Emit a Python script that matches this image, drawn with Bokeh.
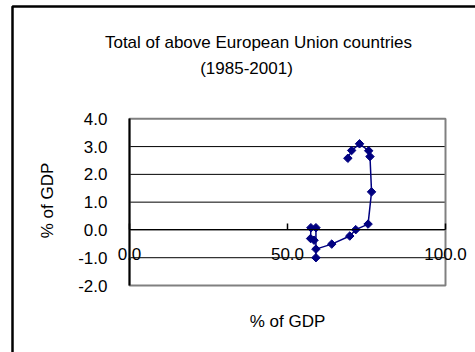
from bokeh.plotting import figure
from bokeh.models import Label, FixedTicker, PrintfTickFormatter, Range1d
from bokeh.embed import file_html
from bokeh.resources import INLINE
from math import pi

# Debt (% of GDP) against primary balance (% of GDP), 1985-2001
debt = [58.4, 57.3, 57.4, 59.0, 59.0, 59.0, 64.0, 69.7, 71.6, 75.5, 76.6, 76.1, 75.7, 72.8, 70.3, 69.1]
balance = [-0.37, -0.31, 0.08, 0.08, -1.0, -0.69, -0.51, -0.22, 0.01, 0.21, 1.37, 2.64, 2.85, 3.10, 2.86, 2.58]

x_ticks = [0, 50, 100]
y_ticks = [-2, -1, 0, 1, 2, 3, 4]

title_lines = ["Total of above European Union countries", "(1985-2001)"]
x_title = "% of GDP"
y_title = "% of GDP"

FONT = "Liberation Sans"
FSIZE = "17px"
NAVY = "#000080"
GREY = "#808080"

W, H = 475, 352
# pixel box of the plot area inside the chart
PL, PR, PT, PB = 129.0, 445.0, 118.3, 285.0
X0, X1 = x_ticks[0], x_ticks[-1]
Y0, Y1 = y_ticks[0], y_ticks[-1]
SX = (PR - PL) / (X1 - X0)
SY = (PB - PT) / (Y1 - Y0)


def dx(px):
    return X0 + (px - PL) / SX


def dy(py):
    return Y1 - (py - PT) / SY


# the frame covers the whole chart area so titles can sit anywhere on it
p = figure(width=W, height=H,
           x_range=Range1d(dx(0), dx(W)), y_range=Range1d(dy(H), dy(0)),
           output_backend="svg", toolbar_location=None,
           min_border_left=0, min_border_right=0,
           min_border_top=0, min_border_bottom=0,
           background_fill_color="white", border_fill_color="white")
p.outline_line_color = None
p.xgrid.visible = False
p.ygrid.visible = False

# horizontal gridlines across the plot area
inner = y_ticks[1:-1]
p.segment(x0=[X0] * len(inner), x1=[X1] * len(inner), y0=inner, y1=inner,
          line_color="black", line_width=1)

# plot area border
p.quad(left=[X0], right=[X1], bottom=[Y0], top=[Y1], fill_color=None,
       line_color=GREY, line_width=2)

# value axis at x = 0
p.yaxis.fixed_location = X0
p.yaxis.bounds = (Y0, Y1)
p.yaxis.ticker = FixedTicker(ticks=y_ticks)
p.yaxis.formatter = PrintfTickFormatter(format="%.1f")
p.yaxis.axis_line_color = "black"
p.yaxis.axis_line_width = 2
p.yaxis.major_tick_out = 0
p.yaxis.major_tick_in = 0
p.yaxis.minor_tick_line_color = None
p.yaxis.major_label_standoff = 22
p.yaxis.major_label_text_font = FONT
p.yaxis.major_label_text_font_size = FSIZE
p.yaxis.major_label_text_color = "black"

# horizontal axis crossing at y = 0
p.xaxis.fixed_location = 0
p.xaxis.bounds = (X0, X1)
p.xaxis.ticker = FixedTicker(ticks=x_ticks)
p.xaxis.formatter = PrintfTickFormatter(format="%.1f")
p.xaxis.axis_line_color = "black"
p.xaxis.axis_line_width = 1
p.xaxis.major_tick_in = 6
p.xaxis.major_tick_out = 0
p.xaxis.major_tick_line_width = 1.5
p.xaxis.minor_tick_line_color = None
p.xaxis.major_label_standoff = 18
p.xaxis.major_label_text_font = FONT
p.xaxis.major_label_text_font_size = FSIZE
p.xaxis.major_label_text_color = "black"

# the series
p.line(debt, balance, line_color=NAVY, line_width=1.5)
p.scatter(debt, balance, marker="square", angle=pi / 4, size=6,
          fill_color=NAVY, line_color=NAVY)

# chart titles
for text, px, py in zip(title_lines, [258, 246], [42, 68]):
    p.add_layout(Label(x=dx(px), y=dy(py), text=text, text_align="center",
                       text_baseline="alphabetic", text_font=FONT,
                       text_font_size=FSIZE, text_color="black"))

p.add_layout(Label(x=dx(287), y=dy(321), text=x_title, text_align="center",
                   text_baseline="middle", text_font=FONT,
                   text_font_size=FSIZE, text_color="black"))
p.add_layout(Label(x=dx(47), y=dy(200), text=y_title, angle=pi / 2,
                   text_align="center", text_baseline="middle", text_font=FONT,
                   text_font_size=FSIZE, text_color="black"))

# chart area frame (left and top edges)
p.line([dx(12), dx(12), dx(W + 20)], [dy(H + 20), dy(6), dy(6)],
       line_color="black", line_width=2.5)

open("out.html", "w").write(file_html(p, INLINE))
